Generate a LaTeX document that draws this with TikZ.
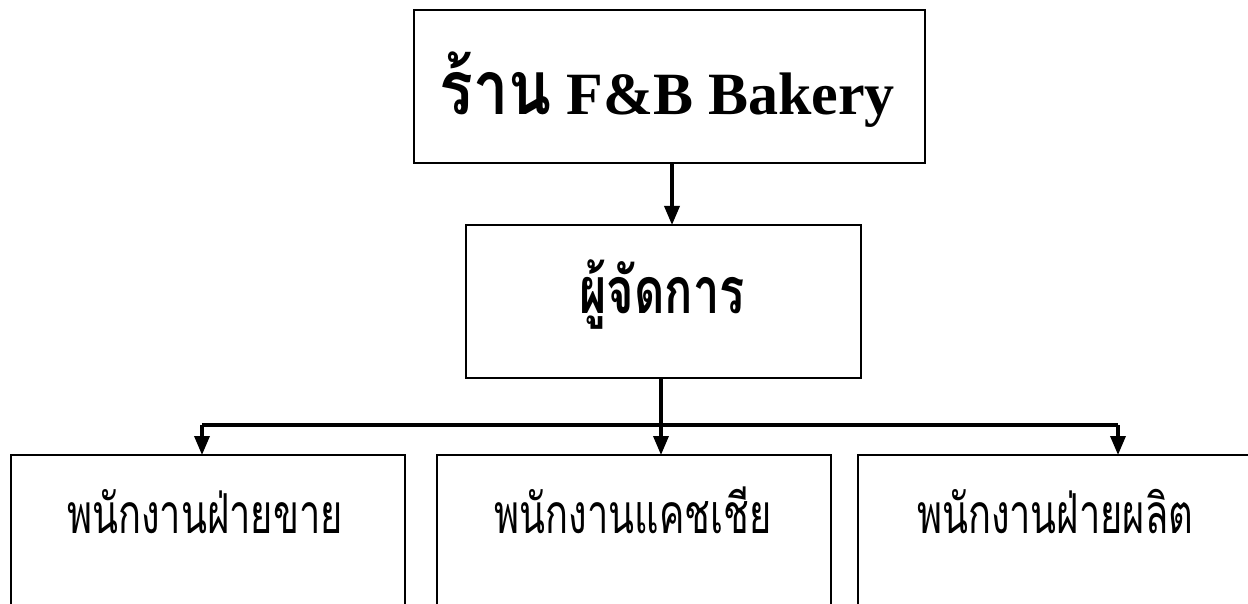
\documentclass[tikz,border=0pt]{standalone}
\usepackage{graphicx}
\usepackage{fontspec}
\setmainfont{Liberation Serif}
\newfontfamily\thaifont[Script=Thai]{Loma}
\usetikzlibrary{arrows.meta}
\tikzset{
  box/.style={draw=black, line width=2.6pt, fill=none, inner sep=0pt, outer sep=0pt},
  conn/.style={line width=3.4pt, line join=miter},
  arr/.style={conn, -{Triangle[length=19pt,width=15pt]}},
  lbl/.style={anchor=base, inner sep=0pt},
}
\begin{document}
\begin{tikzpicture}[x=1pt,y=-1pt]
\clip (0,0) rectangle (1248,604);
\fill[white] (0,0) rectangle (1248,604);
% boxes
\node[box, minimum width=511pt, minimum height=153pt] (top) at (669.5,86.5) {};
\node[box, minimum width=395pt, minimum height=153pt] (mgr) at (663.5,301.5) {};
\node[box, minimum width=394pt, minimum height=220pt] (sales) at (208,565) {};
\node[box, minimum width=394pt, minimum height=220pt] (cashier) at (634,565) {};
\node[box, minimum width=402pt, minimum height=220pt] (prod) at (1059,565) {};
% labels
\node[lbl, font=\fontsize{60}{70}\selectfont\bfseries] (ttop) at (667,115) {\scalebox{1.05}[1.25]{\thaifont ร้าน} F\&B Bakery};
\node[lbl, font=\fontsize{46}{56}\selectfont\thaifont\bfseries] (tmgr) at (662,313) {\scalebox{1.02}[1.4]{ผู้จัดการ}};
\node[lbl, font=\fontsize{38}{46}\selectfont\thaifont] (tsales) at (205,533) {\scalebox{1}[1.45]{พนักงานฝ่ายขาย}};
\node[lbl, font=\fontsize{38}{46}\selectfont\thaifont] (tcashier) at (633,533) {\scalebox{1}[1.45]{พนักงานแคชเชีย}};
\node[lbl, font=\fontsize{38}{46}\selectfont\thaifont] (tprod) at (1055,533) {\scalebox{1}[1.45]{พนักงานฝ่ายผลิต}};
% connectors
\coordinate (c1) at (672,0);
\coordinate (c2) at (661,0);
\coordinate (jl) at (202,425);
\coordinate (jr) at (1118,425);
\draw[arr] (top.south -| c1) -- (mgr.north -| c1);
\draw[arr] (mgr.south -| c2) -- (cashier.north -| c2);
\draw[conn] (jl) -- (jr);
\draw[arr] (jl) -- (sales.north -| jl);
\draw[arr] (jr) -- (prod.north -| jr);
\end{tikzpicture}
\end{document}
